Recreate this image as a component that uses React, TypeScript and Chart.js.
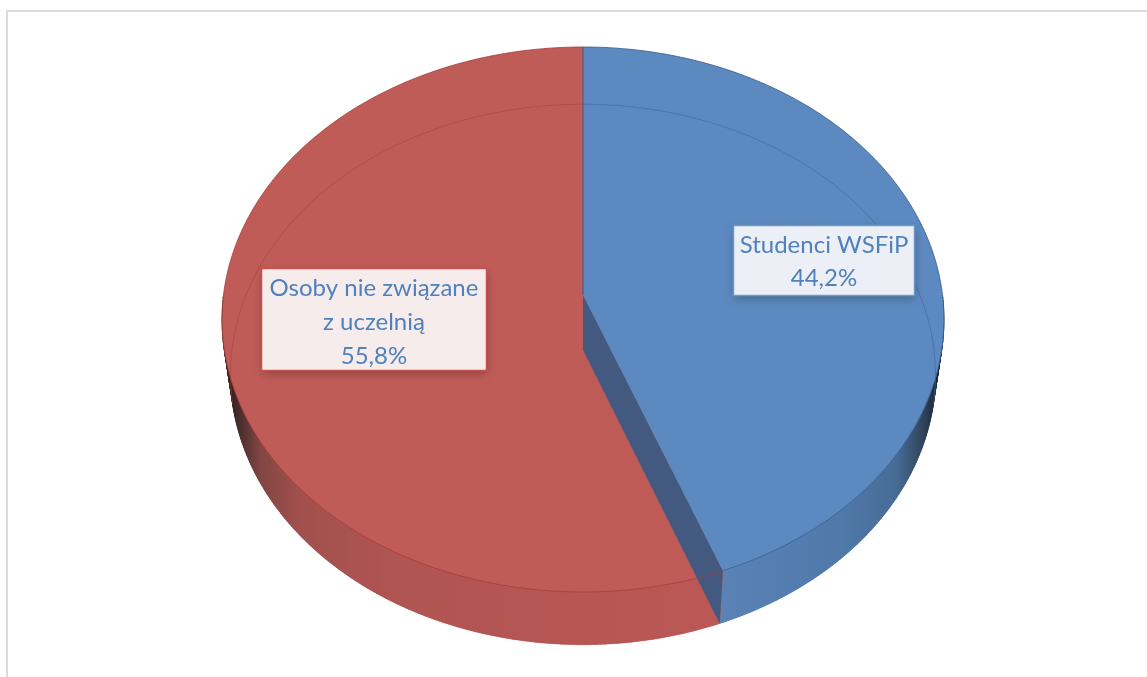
import React, { useEffect, useRef } from "react";
import { Chart, registerables } from "chart.js";

Chart.register(...registerables);

const categories = ["Studenci WSFiP", "Osoby nie związane z uczelnią"];
const values = [44.2, 55.8];
const labelLines = [["Studenci WSFiP"], ["Osoby nie związane", "z uczelnią"]];
const faceColors = ["#5c89bf", "#c05c58"];

const FONT = "24px Lato, 'Open Sans', sans-serif";
const TEXT = "#4f81bd";

type Proj = { cx: number; y0: number; a: number; b: number; p: number };
const TOP: Proj = { cx: 583, y0: 295, a: 359.5, b: 270.3, p: 0.0899 };
const BOT: Proj = { cx: 583, y0: 350, a: 351, b: 268, p: 0.0905 };

const map = (h: Proj, ang: number): [number, number] => {
  const u = Math.cos(ang);
  const v = Math.sin(ang);
  const w = 1 - h.p * v;
  return [h.cx + (h.a * u) / w, h.y0 + (h.b * v) / w];
};

const rimTo = (ctx: CanvasRenderingContext2D, h: Proj, a0: number, a1: number, move = false) => {
  const n = Math.max(2, Math.ceil(Math.abs(a1 - a0) / 0.01));
  for (let i = 0; i <= n; i++) {
    const [x, y] = map(h, a0 + ((a1 - a0) * i) / n);
    if (i === 0 && move) ctx.moveTo(x, y);
    else ctx.lineTo(x, y);
  }
};

const wedge = (ctx: CanvasRenderingContext2D, h: Proj, a0: number, a1: number) => {
  ctx.beginPath();
  ctx.moveTo(h.cx, h.y0);
  rimTo(ctx, h, a0, a1);
  ctx.closePath();
};

const strip = (ctx: CanvasRenderingContext2D, a0: number, a1: number) => {
  const n = Math.ceil((a1 - a0) / 0.01);
  for (let i = 0; i < n; i++) {
    const s = a0 + ((a1 - a0) * i) / n;
    const e = a0 + ((a1 - a0) * (i + 1)) / n;
    ctx.beginPath();
    ctx.moveTo(...map(TOP, s));
    ctx.lineTo(...map(TOP, e));
    ctx.lineTo(...map(BOT, e));
    ctx.lineTo(...map(BOT, s));
    ctx.closePath();
    ctx.fill();
    ctx.stroke();
  }
};

const line = (ctx: CanvasRenderingContext2D, h: Proj, a0: number, a1: number, color: string, w = 1) => {
  ctx.beginPath();
  rimTo(ctx, h, a0, a1, true);
  ctx.strokeStyle = color;
  ctx.lineWidth = w;
  ctx.stroke();
};

const box = (
  ctx: CanvasRenderingContext2D,
  x: number, y: number, w: number, h: number,
  fill: string, border: string, lines: string[], firstY: number, step: number
) => {
  ctx.save();
  ctx.shadowColor = "rgba(0,0,0,0.28)";
  ctx.shadowBlur = 9;
  ctx.shadowOffsetY = 3;
  ctx.fillStyle = fill;
  ctx.fillRect(x, y, w, h);
  ctx.restore();
  ctx.strokeStyle = border;
  ctx.lineWidth = 1.5;
  ctx.strokeRect(x, y, w, h);
  ctx.fillStyle = TEXT;
  ctx.font = FONT;
  ctx.textAlign = "center";
  ctx.textBaseline = "middle";
  lines.forEach((t, i) => ctx.fillText(t, x + w / 2, firstY + i * step));
};

const pct = (v: number) => v.toFixed(1).replace(".", ",") + "%";

const pie3d = {
  id: "pie3d",
  beforeDatasetsDraw(chart: any) {
    const ctx: CanvasRenderingContext2D = chart.ctx;
    const arcs = chart.getDatasetMeta(0).data;
    const bS = arcs[0].startAngle, bE = arcs[0].endAngle;
    const rS = arcs[1].startAngle, rE = arcs[1].endAngle;

    ctx.save();

    // blue side
    const gb = ctx.createLinearGradient(720, 0, 942, 0);
    gb.addColorStop(0, "#5a82b5");
    gb.addColorStop(0.55, "#5079aa");
    gb.addColorStop(0.8, "#476b94");
    gb.addColorStop(0.92, "#2f4159");
    gb.addColorStop(1, "#141c28");
    ctx.fillStyle = gb;
    ctx.strokeStyle = gb;
    ctx.lineWidth = 0.5;
    wedge(ctx, BOT, bS, bE);
    ctx.fill();
    strip(ctx, Math.max(bS, 0), bE);

    // red side
    const gr = ctx.createLinearGradient(226, 0, 720, 0);
    gr.addColorStop(0, "#2e1c1b");
    gr.addColorStop(0.03, "#4c2f2e");
    gr.addColorStop(0.07, "#824644");
    gr.addColorStop(0.15, "#a2504d");
    gr.addColorStop(0.35, "#b05552");
    gr.addColorStop(1, "#bb5855");
    ctx.fillStyle = gr;
    ctx.strokeStyle = gr;
    wedge(ctx, BOT, rS, rE);
    ctx.fill();
    strip(ctx, rS, Math.PI);

    // red top face
    ctx.fillStyle = faceColors[1];
    wedge(ctx, TOP, rS, rE);
    ctx.fill();

    // inner wall
    ctx.fillStyle = "#43597f";
    ctx.beginPath();
    ctx.moveTo(TOP.cx, TOP.y0);
    ctx.lineTo(BOT.cx, BOT.y0);
    ctx.lineTo(...map(BOT, bE));
    ctx.lineTo(...map(TOP, bE));
    ctx.closePath();
    ctx.fill();

    // blue top face
    ctx.fillStyle = faceColors[0];
    wedge(ctx, TOP, bS, bE);
    ctx.fill();

    // faint lines of the far edge of the lower ellipse
    line(ctx, BOT, Math.PI - 0.2, rE, "rgba(165,62,60,0.55)");
    line(ctx, BOT, bS, 0.2, "rgba(62,104,160,0.6)");

    // near and far rims of the top face
    line(ctx, TOP, bS, bE, "rgba(58,96,148,0.85)");
    line(ctx, TOP, bE, rE, "rgba(166,60,58,0.8)");

    // seam at 12 o'clock
    ctx.beginPath();
    ctx.moveTo(TOP.cx, TOP.y0);
    ctx.lineTo(...map(TOP, bS));
    ctx.strokeStyle = "rgba(72,92,132,0.85)";
    ctx.lineWidth = 1.2;
    ctx.stroke();

    box(ctx, 261.5, 268.5, 225, 102, "#f6ecec", "#c8504d",
      [...labelLines[1], pct(values[1])], 288, 34);
    box(ctx, 733.5, 225.5, 181, 70, "#ecf0f6", "#6f97c9",
      [...labelLines[0], pct(values[0])], 245, 33);

    ctx.restore();
    return false;
  },
};

export default function App() {
  const ref = useRef<HTMLCanvasElement>(null);
  useEffect(() => {
    const chart = new Chart(ref.current!, {
      type: "pie",
      data: {
        labels: categories,
        datasets: [{ data: values, backgroundColor: faceColors, borderWidth: 0 }],
      },
      options: {
        responsive: false,
        animation: false,
        plugins: { legend: { display: false }, tooltip: { enabled: false } },
      },
      plugins: [pie3d],
    } as any);
    return () => chart.destroy();
  }, []);
  return (
    <div style={{ position: "fixed", left: 0, top: 0, width: 1147, height: 677, background: "#fff", overflow: "hidden" }}>
      <canvas ref={ref} width={1147} height={677} style={{ position: "absolute", left: 0, top: 0, display: "block" }} />
      <div style={{ position: "absolute", left: 6, top: 10, right: -4, bottom: -4, borderLeft: "2px solid #dcdcdc", borderTop: "2px solid #dcdcdc" }} />
    </div>
  );
}
